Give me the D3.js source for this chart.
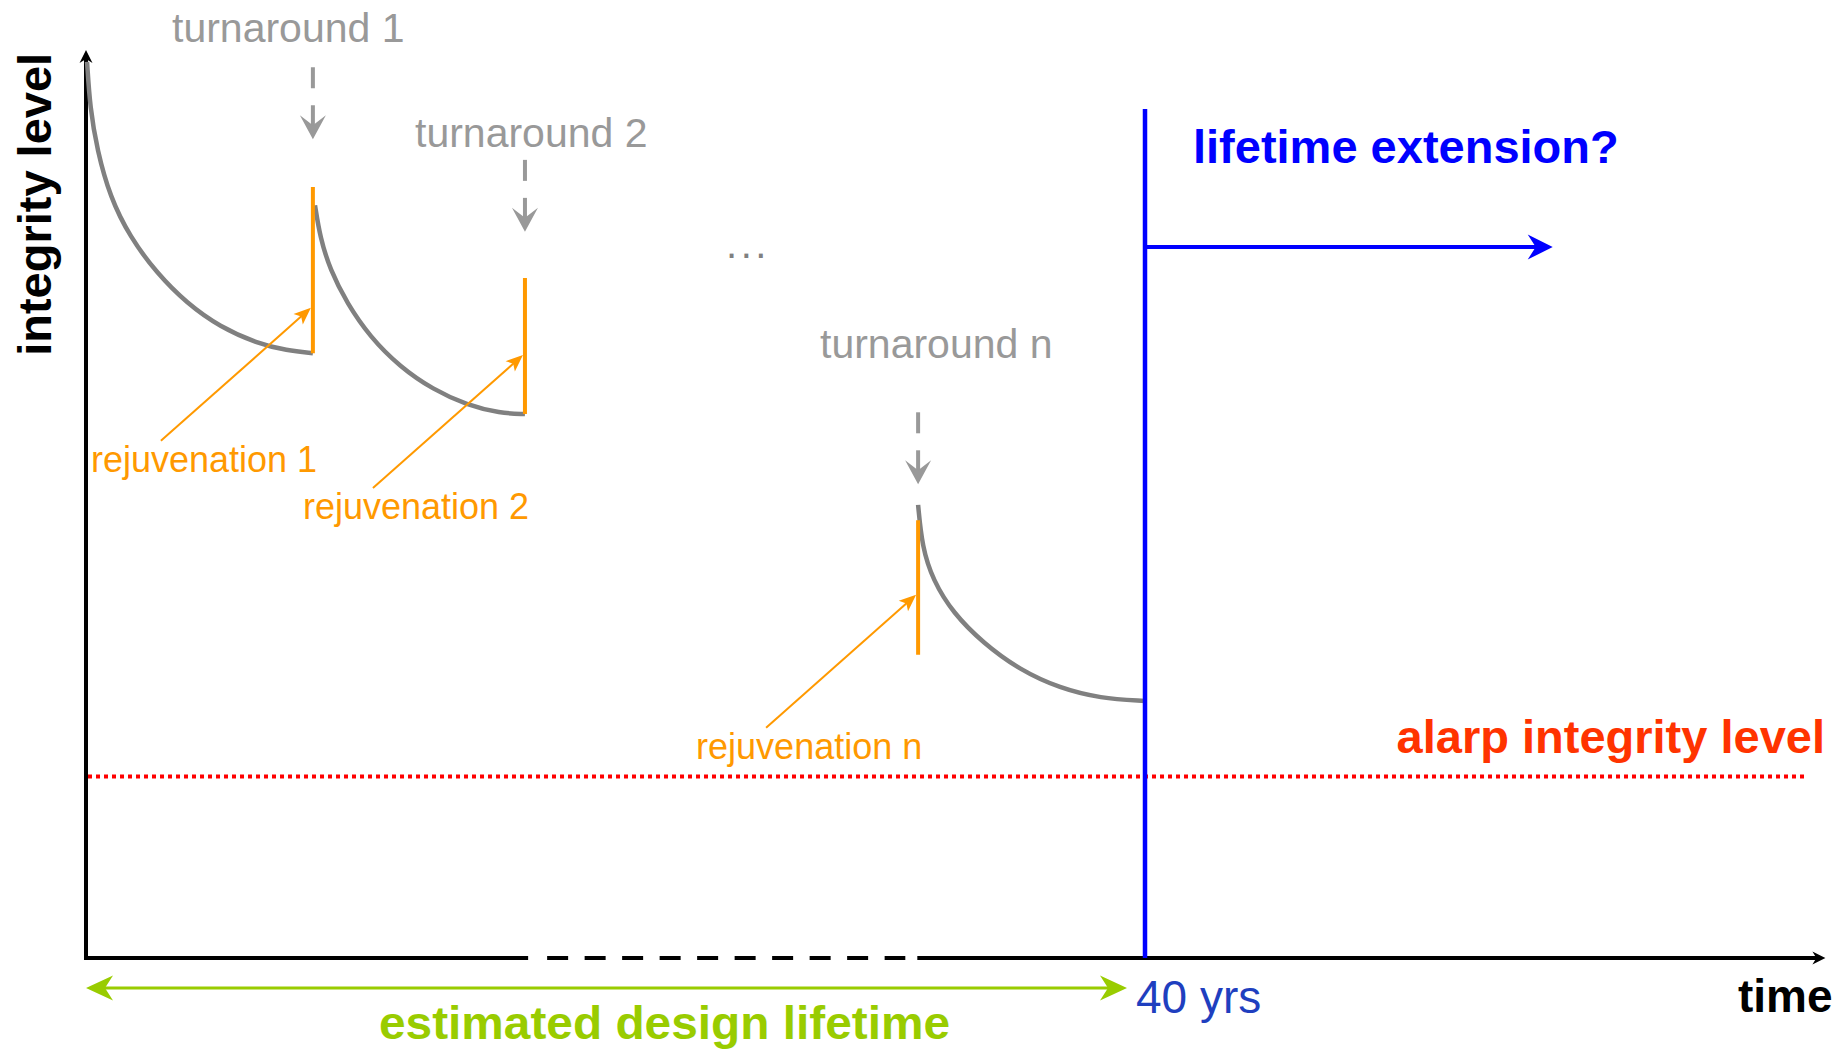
<!DOCTYPE html>
<html><head><meta charset="utf-8">
<script src="https://cdn.jsdelivr.net/npm/d3@7"></script>
<style>
html,body{margin:0;padding:0;background:#fff;}
svg{display:block;}
text{font-family:"Liberation Sans",Arial,Helvetica,sans-serif;}
</style>
</head><body>
<svg id="chart" width="1845" height="1051"></svg>
<script>
// ---------------- data (time in years, integrity in % of initial) ----------------
const curve1 = [[0.04,98.7],[0.15,93.7],[0.42,89.0],[0.91,83.8],[1.66,79.4],[2.68,75.4],[3.81,72.1],[5.06,69.5],[6.46,67.7],[7.59,66.9],[8.57,66.6]];
const curve2 = [[8.65,82.9],[8.84,79.4],[9.22,75.8],[9.86,72.1],[10.73,68.4],[11.86,65.1],[13.11,62.6],[14.39,60.9],[15.64,60.0],[16.58,59.9]];
const curveN = [[31.43,49.9],[31.58,45.3],[31.99,41.6],[32.75,38.0],[33.88,34.7],[35.28,31.7],[36.79,29.7],[38.30,28.6],[40.0,28.3]];
const turnaroundLabels = ["turnaround 1","turnaround 2","turnaround n"];
const turnaroundTimes = [8.57, 16.58, 31.43];
const turnaroundArrowTop = [98.1, 87.9, 60.1];
const rejuvenationLabels = ["rejuvenation 1","rejuvenation 2","rejuvenation n"];
const rejuvenationLow = [66.6, 59.9, 33.4];
const rejuvenationHigh = [84.9, 74.9, 48.2];
const rejuvenationPointer = [71.6, 66.4, 40.0];
const designLifetime = 40;          // yrs
const alarpLevel = 20;
const alarpLineEnd = 65.0;
const extensionLevel = 78.3;
const extensionEnd = 55.4;
const lifetimeTop = 93.5;
const axisBreak = [16.7, 31.4];
const timeMax = 65.7;
const integrityMax = 100;

// ---------------- layout ----------------
const turnaroundLabelPos = [[172,42],[415,147],[820,358]];
const svg = d3.select("#chart");
const x = d3.scaleLinear().domain([0, designLifetime]).range([86, 1145]);
const y = d3.scaleLinear().domain([0, integrityMax]).range([958, 50]);

const GRAY = "#808080", LGRAY = "#999999", ORANGE = "#ff9900", BLUE = "#0000ff",
      RED = "#ff0000", GREEN = "#99cc00";

function head(tx, ty, ang, len, hw, notch) {
  const c = Math.cos(ang), s = Math.sin(ang);
  const p = (a, b) => [tx + a * c - b * s, ty + a * s + b * c];
  const pts = [p(0,0), p(-len, -hw), p(-len + notch, 0), p(-len, hw)];
  return "M" + pts.map(d => d.join(",")).join("L") + "Z";
}

// ---------------- axes ----------------
const x0 = x(0), yBase = y(0);
svg.append("line").attr("x1", x0).attr("x2", x0).attr("y1", yBase + 2).attr("y2", y(integrityMax) + 8)
  .attr("stroke", "#000").attr("stroke-width", 4);
svg.append("path").attr("d", head(x0, y(integrityMax), -Math.PI/2, 13, 6.5, 4)).attr("fill", "#000");

svg.append("line").attr("x1", x0 - 2).attr("x2", x(axisBreak[0])).attr("y1", yBase).attr("y2", yBase)
  .attr("stroke", "#000").attr("stroke-width", 4);
svg.append("line").attr("x1", x(axisBreak[0]) + 19).attr("x2", x(axisBreak[1]) - 12).attr("y1", yBase).attr("y2", yBase)
  .attr("stroke", "#000").attr("stroke-width", 4).attr("stroke-dasharray", "21,16.5");
svg.append("line").attr("x1", x(axisBreak[1])).attr("x2", x(timeMax) - 8).attr("y1", yBase).attr("y2", yBase)
  .attr("stroke", "#000").attr("stroke-width", 4);
svg.append("path").attr("d", head(x(timeMax), yBase, 0, 13, 6.5, 4)).attr("fill", "#000");

svg.append("text").attr("transform", `translate(51,${y(83)}) rotate(-90)`).attr("text-anchor", "middle")
  .attr("font-size", 47).attr("font-weight", "bold").attr("fill", "#000").text("integrity level");
svg.append("text").attr("x", 1738).attr("y", 1012).attr("font-size", 46).attr("font-weight", "bold")
  .attr("fill", "#000").text("time");

// ---------------- alarp line ----------------
svg.append("line").attr("x1", x0 + 2).attr("x2", x(alarpLineEnd)).attr("y1", y(alarpLevel)).attr("y2", y(alarpLevel))
  .attr("stroke", RED).attr("stroke-width", 4).attr("stroke-dasharray", "4,4");
svg.append("text").attr("x", 1825).attr("y", 753).attr("text-anchor", "end").attr("font-size", 47)
  .attr("font-weight", "bold").attr("fill", "#ff3300").text("alarp integrity level");

// ---------------- degradation curves ----------------
const line = d3.line().x(d => x(d[0])).y(d => y(d[1])).curve(d3.curveBasis);
[curve1, curve2, curveN].forEach(c => {
  svg.append("path").attr("d", line(c)).attr("fill", "none").attr("stroke", GRAY).attr("stroke-width", 4.5);
});

// ---------------- rejuvenations ----------------
turnaroundTimes.forEach((t, i) => {
  const X = x(t);
  svg.append("line").attr("x1", X).attr("x2", X).attr("y1", y(rejuvenationLow[i])).attr("y2", y(rejuvenationHigh[i]))
    .attr("stroke", ORANGE).attr("stroke-width", 4);
  const tipX = X - 2, tipY = y(rejuvenationPointer[i]);
  const tailX = tipX - 150, tailY = tipY + 133;
  const ang = Math.atan2(tipY - tailY, tipX - tailX);
  svg.append("line").attr("x1", tailX).attr("y1", tailY)
    .attr("x2", tipX - 12 * Math.cos(ang)).attr("y2", tipY - 12 * Math.sin(ang))
    .attr("stroke", ORANGE).attr("stroke-width", 2);
  svg.append("path").attr("d", head(tipX, tipY, ang, 17, 7, 4)).attr("fill", ORANGE);
  svg.append("text").attr("x", tailX - 70).attr("y", tailY + 31).attr("font-size", 36).attr("fill", ORANGE)
    .text(rejuvenationLabels[i]);

  const top = y(turnaroundArrowTop[i]);
  svg.append("line").attr("x1", X).attr("x2", X).attr("y1", top).attr("y2", top + 21)
    .attr("stroke", LGRAY).attr("stroke-width", 4);
  svg.append("line").attr("x1", X).attr("x2", X).attr("y1", top + 38).attr("y2", top + 62)
    .attr("stroke", LGRAY).attr("stroke-width", 4);
  svg.append("path").attr("d", head(X, top + 72, Math.PI/2, 24, 13, 10)).attr("fill", LGRAY);
  svg.append("text").attr("x", turnaroundLabelPos[i][0]).attr("y", turnaroundLabelPos[i][1])
    .attr("font-size", 41).attr("fill", LGRAY).text(turnaroundLabels[i]);
});

svg.append("text").attr("x", 748).attr("y", 258).attr("text-anchor", "middle").attr("font-size", 40)
  .attr("letter-spacing", 3.5).attr("fill", GRAY).text("...");

// ---------------- design lifetime / extension ----------------
const xL = x(designLifetime);
svg.append("line").attr("x1", xL).attr("x2", xL).attr("y1", y(lifetimeTop)).attr("y2", yBase)
  .attr("stroke", BLUE).attr("stroke-width", 4.5);
svg.append("line").attr("x1", xL).attr("x2", x(extensionEnd) - 10).attr("y1", y(extensionLevel)).attr("y2", y(extensionLevel))
  .attr("stroke", BLUE).attr("stroke-width", 4);
svg.append("path").attr("d", head(x(extensionEnd), y(extensionLevel), 0, 25, 12.5, 8)).attr("fill", BLUE);
svg.append("text").attr("x", 1193).attr("y", 163).attr("font-size", 47).attr("font-weight", "bold")
  .attr("fill", BLUE).text("lifetime extension?");

const gy = 988;
svg.append("line").attr("x1", x0 + 10).attr("x2", xL - 28).attr("y1", gy).attr("y2", gy)
  .attr("stroke", GREEN).attr("stroke-width", 3);
svg.append("path").attr("d", head(x0, gy, Math.PI, 27, 12.5, 8)).attr("fill", GREEN);
svg.append("path").attr("d", head(xL - 18, gy, 0, 27, 12.5, 8)).attr("fill", GREEN);
svg.append("text").attr("x", 379).attr("y", 1039).attr("font-size", 46).attr("font-weight", "bold")
  .attr("textLength", 571).attr("lengthAdjust", "spacingAndGlyphs")
  .attr("fill", GREEN).text("estimated design lifetime");
svg.append("text").attr("x", 1136).attr("y", 1013).attr("font-size", 46).attr("fill", "#1f3fbf").text("40 yrs");
</script>
</body></html>
